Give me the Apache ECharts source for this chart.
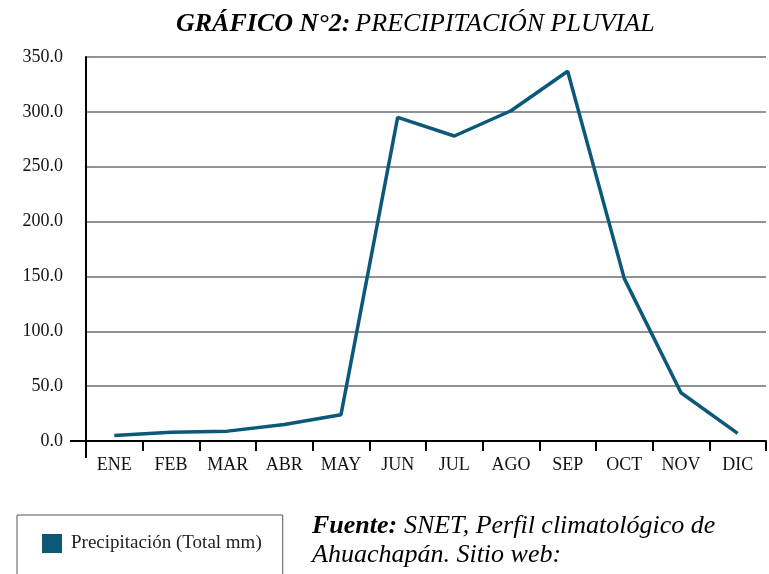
<!DOCTYPE html>
<html>
<head>
<meta charset="utf-8">
<script src="https://cdn.jsdelivr.net/npm/echarts@6/dist/echarts.min.js"></script>
<style>
  html, body { margin: 0; padding: 0; background: #fff; }
  #chart { width: 769px; height: 574px; }
</style>
</head>
<body>
<div id="chart"></div>
<script>
// meses y precipitación total (mm)
const meses = ['ENE', 'FEB', 'MAR', 'ABR', 'MAY', 'JUN', 'JUL', 'AGO', 'SEP', 'OCT', 'NOV', 'DIC']
const precipitacion = [5, 8, 9, 15, 24, 295, 278, 301, 337, 148, 44, 7]
const serieNombre = 'Precipitación (Total mm)'

const serif = '"Liberation Serif", "DejaVu Serif", serif'
const lineColor = '#0c5878'

const chart = echarts.init(document.getElementById('chart'))

chart.setOption({
  animation: false,
  title: {
    text: '{b|GRÁFICO N°2:} {i|PRECIPITACIÓN PLUVIAL}',
    left: 171,
    top: 6,
    textStyle: {
      fontWeight: 'normal',
      rich: {
        b: { fontFamily: serif, fontSize: 26, fontWeight: 'bold', fontStyle: 'italic', color: '#000' },
        i: { fontFamily: serif, fontSize: 26, fontWeight: 'normal', fontStyle: 'italic', color: '#000' }
      }
    }
  },
  legend: {
    data: [serieNombre],
    left: 17,
    top: 515,
    padding: [19, 21, 40, 25],
    borderColor: '#555',
    borderWidth: 1,
    icon: 'rect',
    itemWidth: 20,
    itemHeight: 19,
    textStyle: {
      fontFamily: serif,
      fontSize: 19,
      color: '#222',
      padding: [0, 0, 0, 4]
    }
  },
  grid: {
    left: 86,
    right: 3,
    top: 57,
    bottom: 133
  },
  xAxis: {
    type: 'category',
    data: meses,
    boundaryGap: true,
    axisLine: { lineStyle: { color: '#000', width: 2 } },
    axisTick: { show: true, length: 10, lineStyle: { color: '#000', width: 2 } },
    axisLabel: {
      margin: 15,
      fontFamily: serif,
      fontSize: 18,
      color: '#111'
    }
  },
  yAxis: {
    type: 'value',
    min: 0,
    max: 350,
    interval: 50,
    axisLine: { show: true, lineStyle: { color: '#000', width: 2 } },
    axisTick: { show: false },
    splitLine: { lineStyle: { color: '#8e9396', width: 2 } },
    axisLabel: {
      margin: 23,
      fontFamily: serif,
      fontSize: 18,
      color: '#111',
      formatter: v => v.toFixed(1)
    }
  },
  series: [
    {
      name: serieNombre,
      type: 'line',
      data: precipitacion,
      symbol: 'none',
      itemStyle: { color: lineColor },
      lineStyle: { color: lineColor, width: 3.5 }
    }
  ],
  graphic: [
    // prolongación de los ejes en el origen
    { type: 'line', shape: { x1: 70, y1: 441, x2: 86, y2: 441 }, style: { stroke: '#000', lineWidth: 2 } },
    { type: 'line', shape: { x1: 86, y1: 441, x2: 86, y2: 458 }, style: { stroke: '#000', lineWidth: 2 } },
    {
      type: 'text',
      left: 312,
      top: 513,
      style: {
        text: '{b|Fuente:}  {i|SNET, Perfil climatológico de}\n{i|Ahuachapán. Sitio web:}',
        rich: {
          b: { fontFamily: serif, fontSize: 26, fontWeight: 'bold', fontStyle: 'italic', fill: '#000', lineHeight: 29 },
          i: { fontFamily: serif, fontSize: 26, fontStyle: 'italic', fill: '#000', lineHeight: 29 }
        }
      }
    }
  ]
})
</script>
</body>
</html>
